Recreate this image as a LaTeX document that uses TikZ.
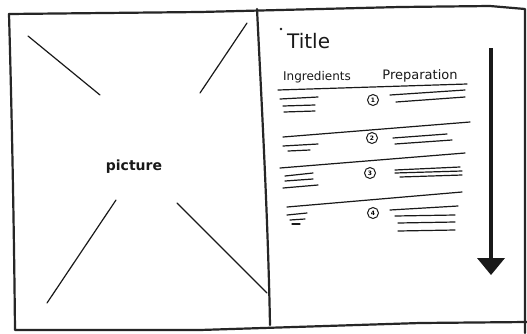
\documentclass[tikz,border=0pt]{standalone}
\usepackage{fontspec}
\setmainfont{DejaVu Sans}
\begin{document}
\begin{tikzpicture}[x=1pt,y=-1pt,
  frame/.style={line width=2.2pt,draw=black!85,line cap=round,line join=round},
  pen/.style={line width=1.2pt,draw=black!90,line cap=round},
  hand/.style={inner sep=0pt,text=black!90},
  num/.style={circle,draw=black!90,line width=1pt,inner sep=0.6pt,minimum size=11pt,font=\fontsize{6}{6}\selectfont\bfseries}]
\useasboundingbox (0,0) rectangle (527,333);
\fill[white] (0,0) rectangle (527,333);
% outer frame
\draw[frame] (9,14) -- (200,12) -- (400,7) -- (490,6) -- (525,9) -- (525,333);
\draw[frame] (9,14) .. controls (12,120) and (14,230) .. (15,330) -- (200,330) -- (420,323) -- (527,322);
% divider
\draw[frame] (257,9) .. controls (262,110) and (268,220) .. (270,325);
% picture panel
\draw[pen] (28,36) -- (100,95);
\draw[pen] (247,23) -- (200,93);
\draw[pen] (116,200) -- (47,303);
\draw[pen] (177,203) -- (267,293);
\node[hand,font=\fontsize{14}{14}\selectfont\bfseries] (pic) at (134,167) {picture};
% title and headers
\fill[black!90] (281,29) circle (1.3pt);
\node[hand,font=\fontsize{20}{20}\selectfont,anchor=west] (title) at (287,41) {Title};
\node[hand,font=\fontsize{12}{12}\selectfont] (ingr) at (317,77) {Ingredients};
\node[hand,font=\fontsize{13}{13}\selectfont] (prep) at (420,76) {Preparation};
\draw[pen] (278,90) -- (467,84);
\draw[pen] (390,95) -- (465,90);
% row 1
\node[num] (n1) at (373,100) {1};
\draw[pen] (280,99) -- (318,97);
\draw[pen] (283,106) -- (315,105);
\draw[pen] (284,112) -- (315,111);
\draw[pen] (396,102) -- (465,97);
% row 2
\draw[pen] (283,137) -- (470,122);
\node[num] (n2) at (372,138) {2};
\draw[pen] (283,146) -- (318,144);
\draw[pen] (288,151) -- (310,150);
\draw[pen] (393,138) -- (447,134);
\draw[pen] (395,144) -- (452,140);
% row 3
\draw[pen] (280,168) -- (465,153);
\node[num] (n3) at (370,173) {3};
\draw[pen] (285,176) -- (313,173);
\draw[pen] (285,181) -- (313,179);
\draw[pen] (283,188) -- (318,185);
\draw[pen] (395,170) -- (460,167);
\draw[pen] (395,173) -- (462,171);
\draw[pen] (400,177) -- (462,175);
% row 4
\draw[pen] (287,207) -- (462,192);
\node[num] (n4) at (373,213) {4};
\draw[pen] (287,215) -- (307,213);
\draw[pen] (290,220) -- (305,219);
\draw[pen] (292,224) -- (300,224);
\draw[pen] (390,210) -- (458,206);
\draw[pen] (395,216) -- (455,215);
\draw[pen] (398,223) -- (455,222);
\draw[pen] (398,231) -- (455,230);
% scroll arrow
\coordinate (as) at (491,48);
\coordinate (ae) at (491,260);
\draw[line width=4pt,black!90] (as) -- (ae);
\fill[black!90] (477,258) -- (505,258) -- (491,275) -- cycle;
\end{tikzpicture}
\end{document}
